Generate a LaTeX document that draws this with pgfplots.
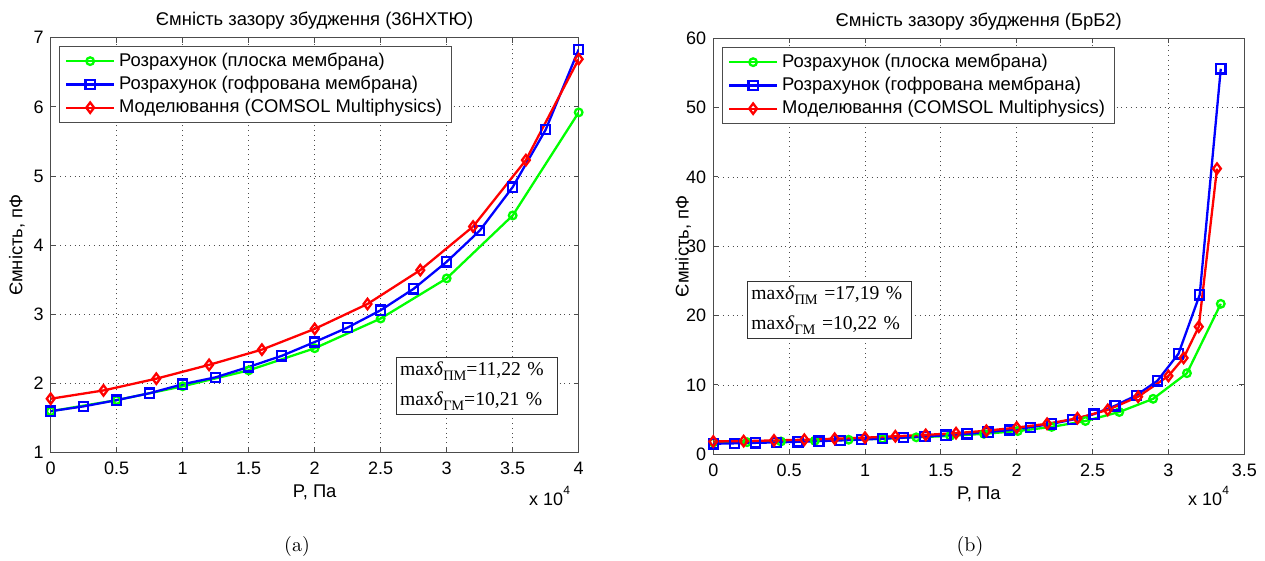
\documentclass[border=0pt]{standalone}
\usepackage{fontspec}
\newfontfamily\arialfont{Liberation Sans}
\newfontfamily\timesfont{Liberation Serif}
\usepackage{pgfplots}
\pgfplotsset{compat=1.18}
\pgfplotsset{
  mystyle/.style={
    scale only axis,
    font=\arialfont\fontsize{9.2}{11}\selectfont,
    tick label style={font=\arialfont\fontsize{9}{11}\selectfont},
    /pgf/number format/assume math mode=true,
    axis line style={black!70, line width=0.5pt},
    tick style={black!70, line width=0.5pt},
    tick align=inside,
    major tick length=2.5pt,
    xtick pos=both, ytick pos=both,
    grid=major,
    major grid style={dotted, black!70, line width=0.45pt},
    xticklabel style={yshift=-1.2pt},
    legend cell align=left,
    legend style={draw=black!70, line width=0.5pt, fill=white,
      font=\arialfont\fontsize{9.2}{11}\selectfont, row sep=0pt,
      inner xsep=3pt, inner ysep=1.5pt, nodes={inner ysep=1.7pt}},
    legend image code/.code={\draw[mark repeat=2,mark phase=2,##1] plot coordinates {(0cm,0cm) (0.42cm,0cm) (0.84cm,0cm)};},
    title style={font=\arialfont\fontsize{9.2}{11}\selectfont, at={(0.5,1)}, anchor=base},
    every axis plot/.append style={line width=1.15pt},
    xlabel={P, Па},
    ylabel={Ємність, пФ},
    xlabel style={at={(axis description cs:0.5,0)}, anchor=base, yshift=-22.6pt},
  },
  gser/.style={color={rgb,1:red,0;green,1;blue,0}, mark=o, mark size=1.9pt, mark options={solid}},
  bser/.style={color={rgb,1:red,0;green,0;blue,1}, mark=square, mark size=2.3pt, mark options={solid}},
  rser/.style={color={rgb,1:red,1;green,0;blue,0}, mark=diamond, mark size=2.6pt, mark options={solid}},
}
\begin{document}
\begin{tikzpicture}
\useasboundingbox (0pt,0pt) rectangle (632.5pt,280.5pt);
% ---------------- (a) ----------------
\begin{axis}[mystyle,
  at={(25.35pt,54.15pt)}, anchor=south west,
  width=264pt, height=207.5pt,
  xmin=0, xmax=4, ymin=1, ymax=7,
  xtick={0,0.5,...,4}, ytick={1,2,...,7},
  title={Ємність зазору збудження (36НХТЮ)},
  ylabel style={at={(axis description cs:-0.064,0.5)}, anchor=center},
  legend style={at={(0.015,0.98)}, anchor=north west},
]
\addplot[gser] coordinates {(0,1.60) (0.5,1.76) (1,1.96) (1.5,2.19) (2,2.51) (2.5,2.94) (3,3.52) (3.5,4.43) (4,5.92)};
\addlegendentry{Розрахунок (плоска мембрана)}
\addplot[bser] coordinates {(0,1.60) (0.25,1.67) (0.5,1.76) (0.75,1.86) (1,1.99) (1.25,2.09) (1.5,2.24) (1.75,2.40) (2,2.60) (2.25,2.81) (2.5,3.06) (2.75,3.37) (3,3.76) (3.25,4.21) (3.5,4.84) (3.75,5.67) (4,6.83)};
\addlegendentry{Розрахунок (гофрована мембрана)}
\addplot[rser] coordinates {(0,1.78) (0.4,1.90) (0.8,2.07) (1.2,2.27) (1.6,2.49) (2,2.79) (2.4,3.15) (2.8,3.64) (3.2,4.27) (3.6,5.23) (4,6.69)};
\addlegendentry{Моделювання (COMSOL Multiphysics)}
\node[draw=black!80, line width=0.5pt, fill=white, align=left, text width=76.5pt, inner xsep=2pt, inner ysep=2pt,
  font=\timesfont\fontsize{9.8}{15}\selectfont, anchor=center] at (axis cs:3.227,1.965)
  {max\textit{δ}\raisebox{-0.5ex}{\fontsize{7.2}{7}\selectfont ПМ}=11,22 \%\\max\textit{δ}\raisebox{-0.5ex}{\fontsize{7.2}{7}\selectfont ГМ}=10,21 \%};
\end{axis}
% ---------------- (b) ----------------
\begin{axis}[mystyle,
  at={(356.65pt,53.35pt)}, anchor=south west,
  width=265.5pt, height=208pt,
  xmin=0, xmax=3.5, ymin=0, ymax=60,
  xtick={0,0.5,...,3.5}, ytick={0,10,...,60},
  title={Ємність зазору збудження (БрБ2)},
  ylabel style={at={(axis description cs:-0.057,0.5)}, anchor=center},
  legend style={at={(0.0156,0.979)}, anchor=north west},
]
\addplot[gser] coordinates {(0,1.70) (0.223,1.75) (0.446,1.85) (0.669,1.95) (0.892,2.10) (1.115,2.25) (1.338,2.45) (1.561,2.65) (1.784,2.95) (2.007,3.35) (2.230,3.95) (2.453,4.80) (2.676,6.10) (2.899,8.00) (3.122,11.70) (3.345,21.70)};
\addlegendentry{Розрахунок (плоска мембрана)}
\addplot[bser] coordinates {(0,1.52) (0.139,1.58) (0.279,1.65) (0.418,1.72) (0.558,1.80) (0.697,1.90) (0.836,2.00) (0.976,2.12) (1.115,2.25) (1.254,2.40) (1.394,2.55) (1.533,2.75) (1.673,2.95) (1.812,3.20) (1.951,3.50) (2.091,3.90) (2.230,4.40) (2.369,5.00) (2.509,5.80) (2.648,7.00) (2.788,8.50) (2.927,10.60) (3.066,14.50) (3.206,23.00) (3.345,55.60)};
\addlegendentry{Розрахунок (гофрована мембрана)}
\addplot[rser] coordinates {(0,1.85) (0.2,1.90) (0.4,2.00) (0.6,2.10) (0.8,2.25) (1.0,2.40) (1.2,2.60) (1.4,2.80) (1.6,3.05) (1.8,3.40) (2.0,3.85) (2.2,4.40) (2.4,5.20) (2.6,6.40) (2.8,8.30) (3.0,11.30) (3.1,13.90) (3.2,18.40) (3.32,41.20)};
\addlegendentry{Моделювання (COMSOL Multiphysics)}
\node[draw=black!80, line width=0.5pt, fill=white, align=left, text width=77.9pt, inner xsep=2pt, inner ysep=2pt,
  font=\timesfont\fontsize{9.8}{15}\selectfont, anchor=center] at (axis cs:0.765,20.8)
  {max\textit{δ}\raisebox{-0.5ex}{\fontsize{7.2}{7}\selectfont ПМ} =17,19 \%\\max\textit{δ}\raisebox{-0.5ex}{\fontsize{7.2}{7}\selectfont ГМ} =10,22 \%};
\end{axis}
% scale factors and subcaptions
\node[font=\arialfont\fontsize{9}{11}\selectfont, anchor=base east] at (288.5pt,27.5pt) {x 10\raisebox{1.2ex}{\fontsize{6}{6}\selectfont 4}};
\node[font=\arialfont\fontsize{9}{11}\selectfont, anchor=base east] at (618pt,27.5pt) {x 10\raisebox{1.2ex}{\fontsize{6}{6}\selectfont 4}};
\node[font=\fontsize{10}{12}\selectfont] at (148.5pt,7pt) {(a)};
\node[font=\fontsize{10}{12}\selectfont] at (485pt,7pt) {(b)};
\end{tikzpicture}
\end{document}
